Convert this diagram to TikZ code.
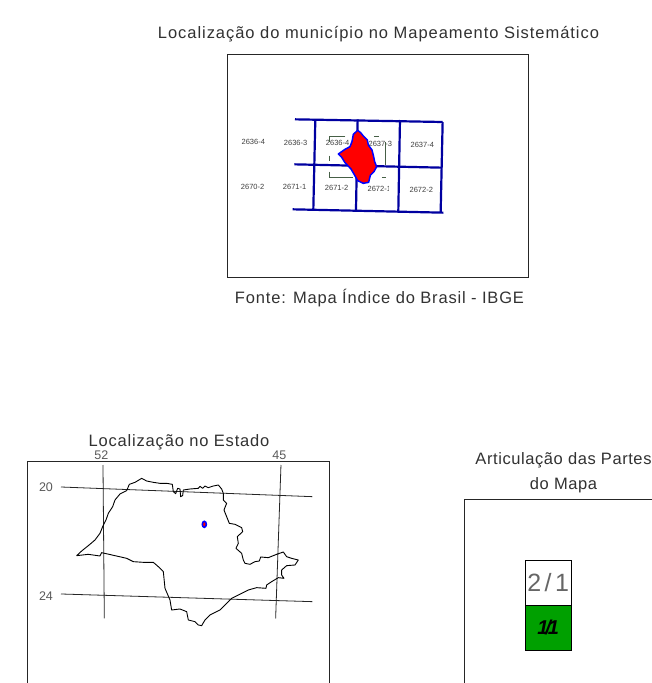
\documentclass[tikz,border=0pt]{standalone}
\usepackage{fontspec}
\setmainfont{Liberation Sans}
\newfontfamily\titlefont[LetterSpace=5.8]{Liberation Sans}
\newfontfamily\titlefontc[LetterSpace=5]{Liberation Sans}
\newfontfamily\titlefontb[LetterSpace=3.5]{Liberation Sans}
\definecolor{gridblue}{RGB}{0,0,160}
\definecolor{mapgreen}{RGB}{0,160,0}
\definecolor{brk}{RGB}{70,95,70}
\definecolor{txt}{RGB}{50,50,50}
\tikzset{
  frame/.style={draw=black!85,line width=0.8pt},
  gridline/.style={draw=gridblue,line width=2.2pt},
  grat/.style={draw=black!85,line width=0.8pt},
  title/.style={text=txt,inner sep=0pt,font=\titlefontc\fontsize{16.5}{17}\selectfont},
  sheet/.style={text=black!75,inner sep=0pt,font=\fontsize{7.5}{8}\selectfont},
  deg/.style={text=black!65,inner sep=0pt,font=\fontsize{12.5}{13}\selectfont},
  brack/.style={draw=brk,line width=0.9pt}
}
\begin{document}
\begin{tikzpicture}[x=1pt,y=-1pt]
\useasboundingbox (0,0) rectangle (652,683);
\fill[white] (0,0) rectangle (652,683);
% top panel
\node[title,font=\titlefont\fontsize{16.5}{17}\selectfont] (t1) at (378.5,34.5) {Localização do município no Mapeamento Sistemático};
\draw[frame] (227,54) rectangle (528,277);
\node[title] (t2) at (379.5,298) {Fonte: Mapa Índice do Brasil - IBGE};
\begin{scope}[shift={(230,100)},x=0.3333pt,y=-0.3333pt]
  \node[sheet] (s1) at (70,126) {2636-4};
  \node[sheet] (s2) at (197,128) {2636-3};
  \node[sheet] (s3) at (323,130) {2636-4};
  \node[sheet] (s4) at (451,132) {2637-3};
  \node[sheet] (s5) at (577,134) {2637-4};
  \node[sheet] (s6) at (68,260) {2670-2};
  \node[sheet] (s7) at (194,262) {2671-1};
  \node[sheet] (s8) at (320,264) {2671-2};
  \node[sheet] (s9) at (448,267) {2672-1};
  \node[sheet] (s10) at (574,270) {2672-2};
  \fill[white] (476,250) rectangle (492,280);
  \draw[brack] (346,108) -- (298,108) -- (298,125);
  \draw[brack] (298,167) -- (298,182);
  \draw[brack] (298,215) -- (298,233) -- (370,233);
  \draw[brack] (432,108) -- (446,108);
  \draw[brack] (466,125) -- (466,195);
  \draw[brack] (456,233) -- (468,233);
  \draw[gridline] (195,58) -- (638,66);
  \draw[gridline] (193,193) -- (636,203);
  \draw[gridline] (188,328) -- (640,338);
  \draw[gridline] (256,58) -- (250,328);
  \draw[gridline] (383,58) -- (378,330);
  \draw[gridline] (510,60) -- (505,333);
  \draw[gridline] (638,66) -- (632,338);
  \draw[fill=red,draw=blue,line width=1.5pt,line join=round]
    (383,91) -- (392,98) -- (400,108) -- (412,120) -- (415,135) -- (426,150) -- (431,170) -- (434,185) -- (440,200)
    -- (432,215) -- (421,226) -- (416,247) -- (400,250) -- (383,242) -- (373,224) -- (363,207) -- (345,188) -- (335,172)
    -- (325,162) -- (345,148) -- (360,140) -- (366,125) -- (370,103) -- cycle;
\end{scope}
% state panel
\node[title] (t3) at (179,442.5) {Localização no Estado};
\draw[frame] (27.7,683) -- (27.7,461.7) -- (329,461.7) -- (329,683);
\begin{scope}[shift={(20,425)},x=0.3333pt,y=-0.3333pt]
  \node[deg] (d52) at (244,90) {52};
  \node[deg] (d45) at (778,90) {45};
  \node[deg] (d20) at (78,187) {20};
  \node[deg] (d24) at (78,512) {24};
  \draw[grat] (123,186) -- (877,215);
  \draw[grat] (123,507) -- (877,530);
  \draw[grat] (249,120) -- (253,580);
  \draw[grat] (783,120) -- (767,580);
  \draw[draw=black,line width=0.9pt,line join=round]
    (170,392) -- (185,378) -- (205,362) -- (225,345) -- (240,325) -- (248,305) -- (258,285) -- (265,265)
    -- (278,245) -- (285,225) -- (300,207) -- (320,197) -- (328,178) -- (345,172) -- (365,160) -- (380,168)
    -- (400,172) -- (420,175) -- (440,175) -- (457,178) -- (460,200) -- (467,206) -- (473,190) -- (480,192)
    -- (482,215) -- (488,212) -- (490,195) -- (510,192) -- (535,190) -- (540,184) -- (548,190) -- (555,183)
    -- (565,188) -- (580,183) -- (595,180) -- (605,192) -- (610,205) -- (610,225) -- (620,235) -- (612,255)
    -- (620,275) -- (628,295) -- (645,298) -- (665,308) -- (668,320) -- (652,335) -- (655,355) -- (648,370)
    -- (665,385) -- (670,405) -- (675,415) -- (690,418) -- (705,410) -- (718,408) -- (722,396) -- (745,398)
    -- (770,388) -- (790,381) -- (800,395) -- (815,400) -- (835,405) -- (825,420) -- (800,422) -- (785,435)
    -- (785,450) -- (792,460) -- (775,458) -- (755,470) -- (740,480) -- (738,490) -- (710,488) -- (685,495)
    -- (665,505) -- (635,520) -- (620,535) -- (600,555) -- (570,570) -- (555,585) -- (545,602) -- (535,600)
    -- (525,590) -- (505,585) -- (500,560) -- (480,552) -- (455,555) -- (450,525) -- (435,490) -- (430,440)
    -- (415,425) -- (400,412) -- (370,412) -- (340,410) -- (320,400) -- (285,392) -- (245,383) -- (240,393)
    -- (205,388) -- cycle;
  \draw[fill=red,draw=blue,line width=1.6pt] (553,298) circle[x radius=6,y radius=9];
\end{scope}
% articulation panel
\node[title,align=center,font=\titlefontb\fontsize{16.5}{25}\selectfont] (t4) at (563.5,473) {Articulação das Partes\\do Mapa};
\draw[frame] (464.7,683) -- (464.7,499.3) -- (652,499.3);
\node[draw=black,line width=0.7pt,fill=white,minimum width=45.5pt,minimum height=45pt,inner sep=0pt,text=black!60,font=\fontsize{25}{25}\selectfont] (p21) at (548.2,582.5) {2\kern3.5pt/\kern3.5pt1};
\node[draw=black,line width=0.7pt,fill=mapgreen,minimum width=45.5pt,minimum height=45pt,inner sep=0pt,text=black,font=\fontsize{20}{20}\selectfont\bfseries\itshape] (p11) at (548.2,627.5) {1\kern-3pt/\kern-3pt1};
\draw[black,line width=1.4pt] (p21.south west) -- (p21.south east);
\end{tikzpicture}
\end{document}
